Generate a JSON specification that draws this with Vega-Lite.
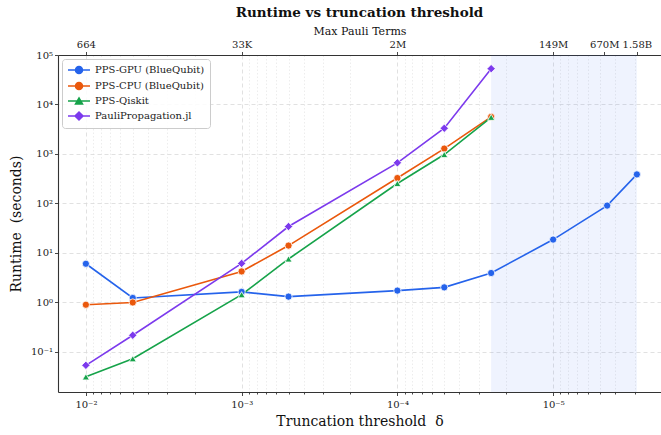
{
  "$schema": "https://vega.github.io/schema/vega-lite/v6.json",
  "width": 603,
  "height": 337,
  "autosize": "none",
  "padding": {"left": 58, "top": 55, "right": 0, "bottom": 43},
  "background": "white",
  "config": {
    "view": {"stroke": null},
    "font": "DejaVu Serif",
    "axis": {
      "labelFont": "DejaVu Serif",
      "titleFont": "DejaVu Serif",
      "labelFontSize": 10,
      "labelColor": "#222222",
      "titleColor": "#111111",
      "titleFontWeight": "normal",
      "domainColor": "#333333",
      "domainWidth": 1.1,
      "tickColor": "#333333",
      "tickSize": 3.5,
      "tickWidth": 0.9,
      "labelPadding": 2,
      "gridColor": "#d9d9d9",
      "gridDash": [4, 3],
      "gridWidth": 0.8
    },
    "legend": {
      "labelFont": "DejaVu Serif",
      "labelFontSize": 10,
      "labelColor": "#222222"
    }
  },
  "title": {
    "text": "Runtime vs truncation threshold",
    "font": "DejaVu Serif",
    "fontSize": 13.5,
    "fontWeight": "bold",
    "color": "#111111",
    "anchor": "middle",
    "offset": 6
  },
  "datasets": {
    "runs": [
      {"delta": 0.01, "series": "PPS-GPU (BlueQubit)", "runtime": 6.0},
      {"delta": 0.005, "series": "PPS-GPU (BlueQubit)", "runtime": 1.22},
      {"delta": 0.001, "series": "PPS-GPU (BlueQubit)", "runtime": 1.62},
      {"delta": 0.0005, "series": "PPS-GPU (BlueQubit)", "runtime": 1.3},
      {"delta": 0.0001, "series": "PPS-GPU (BlueQubit)", "runtime": 1.72},
      {"delta": 0.00005, "series": "PPS-GPU (BlueQubit)", "runtime": 2.0},
      {"delta": 0.000025, "series": "PPS-GPU (BlueQubit)", "runtime": 3.9},
      {"delta": 0.00001, "series": "PPS-GPU (BlueQubit)", "runtime": 18.5},
      {"delta": 0.0000045, "series": "PPS-GPU (BlueQubit)", "runtime": 90},
      {"delta": 0.0000029, "series": "PPS-GPU (BlueQubit)", "runtime": 385},
      {"delta": 0.01, "series": "PPS-CPU (BlueQubit)", "runtime": 0.89},
      {"delta": 0.005, "series": "PPS-CPU (BlueQubit)", "runtime": 0.99},
      {"delta": 0.001, "series": "PPS-CPU (BlueQubit)", "runtime": 4.2},
      {"delta": 0.0005, "series": "PPS-CPU (BlueQubit)", "runtime": 14},
      {"delta": 0.0001, "series": "PPS-CPU (BlueQubit)", "runtime": 325},
      {"delta": 0.00005, "series": "PPS-CPU (BlueQubit)", "runtime": 1280},
      {"delta": 0.000025, "series": "PPS-CPU (BlueQubit)", "runtime": 5600},
      {"delta": 0.01, "series": "PPS-Qiskit", "runtime": 0.031},
      {"delta": 0.005, "series": "PPS-Qiskit", "runtime": 0.072},
      {"delta": 0.001, "series": "PPS-Qiskit", "runtime": 1.42},
      {"delta": 0.0005, "series": "PPS-Qiskit", "runtime": 7.5},
      {"delta": 0.0001, "series": "PPS-Qiskit", "runtime": 252},
      {"delta": 0.00005, "series": "PPS-Qiskit", "runtime": 970},
      {"delta": 0.000025, "series": "PPS-Qiskit", "runtime": 5500},
      {"delta": 0.01, "series": "PauliPropagation.jl", "runtime": 0.053},
      {"delta": 0.005, "series": "PauliPropagation.jl", "runtime": 0.215},
      {"delta": 0.001, "series": "PauliPropagation.jl", "runtime": 6.1},
      {"delta": 0.0005, "series": "PauliPropagation.jl", "runtime": 34},
      {"delta": 0.0001, "series": "PauliPropagation.jl", "runtime": 660},
      {"delta": 0.00005, "series": "PauliPropagation.jl", "runtime": 3300},
      {"delta": 0.000025, "series": "PauliPropagation.jl", "runtime": 53000}
    ],
    "gpu_only_region": [
      {"start": 0.000025, "end": 0.0000029}
    ],
    "pauli_terms": [
      {"delta": 0.01, "terms": "664"},
      {"delta": 0.001, "terms": "33K"},
      {"delta": 0.0001, "terms": "2M"},
      {"delta": 0.00001, "terms": "149M"},
      {"delta": 0.0000047, "terms": "670M"},
      {"delta": 0.0000029, "terms": "1.58B"}
    ]
  },
  "layer": [
    {
      "layer": [
        {
          "data": {"name": "gpu_only_region"},
          "mark": {"type": "rect", "color": "#2563eb", "opacity": 0.075},
          "encoding": {
            "x": {
              "field": "start",
              "type": "quantitative",
              "scale": {"type": "log", "domain": [0.00000203, 0.0151], "reverse": true, "nice": false},
              "axis": {
                "orient": "bottom",
                "title": "Truncation threshold \u00a0δ",
                "titleFontSize": 14,
                "titlePadding": 5,
                "labelPadding": 4,
                "values": [0.0151, 0.01, 0.009, 0.008, 0.007, 0.006, 0.005, 0.004, 0.003, 0.002, 0.001, 0.0009, 0.0008, 0.0007, 0.0006, 0.0005, 0.0004, 0.0003, 0.0002, 0.0001, 0.00009, 0.00008, 0.00007, 0.00006, 0.00005, 0.00004, 0.00003, 0.00002, 0.00001, 0.000009, 0.000008, 0.000007, 0.000006, 0.000005, 0.000004, 0.000003],
                "labelOverlap": false,
                "labelFlush": false,
                "labelExpr": "abs(log(datum.value)/LN10 - round(log(datum.value)/LN10)) < 0.001 ? '10' + (round(log(datum.value)/LN10) < 0 ? '⁻' : '') + ['⁰','¹','²','³','⁴','⁵','⁶'][abs(round(log(datum.value)/LN10))] : ''",
                "tickSize": {"condition": {"test": "abs(log(datum.value)/LN10 - round(log(datum.value)/LN10)) < 0.001", "value": 3.5}, "value": 2},
                "tickOpacity": {"condition": {"test": "datum.value > 0.015", "value": 0}, "value": 1},
                "gridDash": {"condition": {"test": "abs(log(datum.value)/LN10 - round(log(datum.value)/LN10)) < 0.001", "value": [4, 3]}, "value": [1.5, 2]},
                "gridColor": {"condition": {"test": "abs(log(datum.value)/LN10 - round(log(datum.value)/LN10)) < 0.001", "value": "#d9d9d9"}, "value": "#e8e8e8"},
                "gridOpacity": {"condition": {"test": "datum.value > 0.015", "value": 0}, "value": 1}
              }
            },
            "x2": {"field": "end"}
          }
        },
        {
          "data": {"name": "runs"},
          "mark": {"type": "line", "strokeWidth": 1.6},
          "encoding": {
            "x": {"field": "delta", "type": "quantitative"},
            "y": {
              "field": "runtime",
              "type": "quantitative",
              "scale": {"type": "log", "domain": [0.0153, 100000], "nice": false},
              "axis": {
                "title": "Runtime \u00a0(seconds)",
                "titleFontSize": 14,
                "titlePadding": 7,
                "values": [0.1, 1, 10, 100, 1000, 10000, 100000],
                "labelExpr": "'10' + (round(log(datum.value)/LN10) < 0 ? '⁻' : '') + ['⁰','¹','²','³','⁴','⁵','⁶'][abs(round(log(datum.value)/LN10))]",
                "labelFlush": false,
                "labelOverlap": false
              }
            },
            "color": {
              "field": "series",
              "type": "nominal",
              "scale": {
                "domain": ["PPS-GPU (BlueQubit)", "PPS-CPU (BlueQubit)", "PPS-Qiskit", "PauliPropagation.jl"],
                "range": ["#2563eb", "#ea580c", "#16a34a", "#7c3aed"]
              },
              "legend": {
                "title": null,
                "orient": "top-left",
                "offset": 4,
                "padding": 5,
                "fillColor": "rgba(255,255,255,0.85)",
                "strokeColor": "#cccccc",
                "cornerRadius": 3,
                "symbolSize": 100,
                "labelOffset": 16,
                "rowPadding": 2,
                "symbolStrokeWidth": 1.5,
                "encode": {
                  "symbols": {
                    "update": {
                      "shape": {"signal": "datum.value == 'PPS-Qiskit' ? 'M-1,0H3.4M1.2,-0.6L1.9,0.6L0.5,0.6Z' : datum.value == 'PauliPropagation.jl' ? 'M-1,0H3.4M1.2,-0.8L2,0L1.2,0.8L0.4,0Z' : 'M-1,0H3.4M1.9,0A0.7,0.7,0,1,1,0.5,0A0.7,0.7,0,1,1,1.9,0Z'"},
                      "fill": {"scale": "color", "field": "value"},
                      "stroke": {"scale": "color", "field": "value"},
                      "strokeWidth": {"value": 1.5},
                      "opacity": {"value": 1}
                    }
                  }
                }
              }
            }
          }
        },
        {
          "data": {"name": "runs"},
          "transform": [{"filter": "datum.series == 'PPS-GPU (BlueQubit)' || datum.series == 'PPS-CPU (BlueQubit)'"}],
          "mark": {"type": "point", "shape": "circle", "filled": true, "size": 52, "stroke": "white", "strokeWidth": 0.8, "opacity": 1},
          "encoding": {
            "x": {"field": "delta", "type": "quantitative"},
            "y": {"field": "runtime", "type": "quantitative"},
            "color": {"field": "series", "type": "nominal"}
          }
        },
        {
          "data": {"name": "runs"},
          "transform": [{"filter": "datum.series == 'PPS-Qiskit'"}],
          "mark": {"type": "point", "shape": "triangle-up", "filled": true, "size": 50, "stroke": "white", "strokeWidth": 0.8, "opacity": 1},
          "encoding": {
            "x": {"field": "delta", "type": "quantitative"},
            "y": {"field": "runtime", "type": "quantitative"},
            "color": {"field": "series", "type": "nominal"}
          }
        },
        {
          "data": {"name": "runs"},
          "transform": [{"filter": "datum.series == 'PauliPropagation.jl'"}],
          "mark": {"type": "point", "shape": "diamond", "filled": true, "size": 70, "stroke": "white", "strokeWidth": 0.8, "opacity": 1},
          "encoding": {
            "x": {"field": "delta", "type": "quantitative"},
            "y": {"field": "runtime", "type": "quantitative"},
            "color": {"field": "series", "type": "nominal"}
          }
        }
      ]
    },
    {
      "data": {"name": "pauli_terms"},
      "mark": {"type": "point", "opacity": 0},
      "encoding": {
        "x": {
          "field": "delta",
          "type": "quantitative",
          "scale": {"type": "log", "domain": [0.00000203, 0.0151], "reverse": true, "nice": false},
          "axis": {
            "orient": "top",
            "title": "Max Pauli Terms",
            "titleFontSize": 11,
            "titlePadding": 3,
            "grid": false,
            "values": [0.01, 0.001, 0.0001, 0.00001, 0.0000047, 0.0000029],
            "labelOverlap": false,
            "labelFlush": false,
            "labelExpr": "datum.value > 0.005 ? '664' : datum.value > 0.0005 ? '33K' : datum.value > 0.00005 ? '2M' : datum.value > 0.000007 ? '149M' : datum.value > 0.0000035 ? '670M' : '1.58B'"
          }
        }
      }
    }
  ],
  "resolve": {"scale": {"x": "independent"}, "axis": {"x": "independent"}}
}
